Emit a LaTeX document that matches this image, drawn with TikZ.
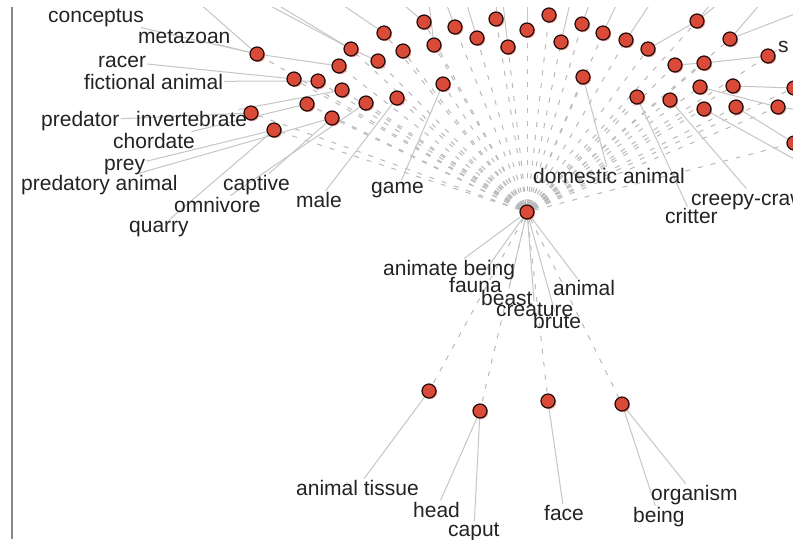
\documentclass[tikz,border=0pt]{standalone}
\usepackage{fontspec}
\setmainfont{Liberation Sans}
\usetikzlibrary{shadows}
\definecolor{nodered}{RGB}{218,74,56}
\definecolor{edgegray}{RGB}{198,198,198}
\definecolor{dashgray}{RGB}{186,186,186}
\definecolor{txt}{RGB}{35,35,35}
\definecolor{framecol}{RGB}{140,138,126}
\pgfdeclarelayer{bg}
\pgfsetlayers{bg,main}
\tikzset{
  vdot/.style={circle, minimum size=14pt, inner sep=0pt, fill=nodered, draw=black!85!nodered, line width=1.2pt,
    drop shadow={shadow xshift=1.2pt, shadow yshift=-1.2pt, fill=nodered!85, opacity=0.6}},
  lbl/.style={anchor=base west, inner sep=1pt, text=txt, font=\fontsize{21}{24}\selectfont},
  sline/.style={draw=edgegray, line width=1pt},
  dline/.style={draw=dashgray, line width=1pt, dash pattern=on 5pt off 8pt},
}
\begin{document}
\begin{tikzpicture}[x=1pt,y=-1pt]
\useasboundingbox (0,0) rectangle (793,539);

\begin{scope}
\clip (13.5,7) rectangle (793,539);
% root and tree nodes
\node[vdot] (root) at (527,212) {};
\foreach \nm/\x/\y in {n1/257/54, n2/251/113, n3/274/130, n4/294/79, n5/318/81, n6/307/104,
  n7/332/118, n8/342/90, n9/339/66, n10/351/49, n11/366/103, n12/378/61, n13/384/33,
  n14/397/98, n15/403/51, n16/424/22, n17/434/45, n18/443/84, n19/455/27, n20/477/38,
  n21/496/19, n22/508/47, n23/527/30, n24/549/15, n25/561/42, n26/582/24, n27/583/77,
  n28/603/33, n29/626/40, n30/648/49, n31/637/97, n32/670/100, n33/675/65, n34/697/21,
  n35/704/63, n36/700/87, n37/704/109, n38/730/39, n39/733/86, n40/736/107, n41/768/56,
  n42/778/107, n43/794/143, n44/794/88,
  b1/429/391, b2/480/411, b3/548/401, b4/622/404}
  \node[vdot] (\nm) at (\x,\y) {};

% labels
\node[lbl] (conceptus) at (47,22) {conceptus};
\node[lbl] (metazoan) at (137,43) {metazoan};
\node[lbl] (racer) at (97,67) {racer};
\node[lbl] (fictional) at (83,89) {fictional animal};
\node[lbl] (predator) at (40,126) {predator};
\node[lbl] (invertebrate) at (135,126) {invertebrate};
\node[lbl] (chordate) at (112,148) {chordate};
\node[lbl] (prey) at (103,170) {prey};
\node[lbl] (predatory) at (20,190) {predatory animal};
\node[lbl] (captive) at (222,190) {captive};
\node[lbl] (omnivore) at (173,212) {omnivore};
\node[lbl] (quarry) at (128,232) {quarry};
\node[lbl] (male) at (295,207) {male};
\node[lbl] (game) at (370,193) {game};
\node[lbl] (domestic) at (532,183) {domestic animal};
\node[lbl] (creepy) at (690,205) {creepy-crawly};
\node[lbl] (critter) at (664,223) {critter};
\node[lbl] (sLabel) at (777,52) {s};
\node[lbl] (animate) at (382,275) {animate being};
\node[lbl] (fauna) at (448,292) {fauna};
\node[lbl] (beast) at (480,305) {beast};
\node[lbl] (creature) at (495,316) {creature};
\node[lbl] (brute) at (532,328) {brute};
\node[lbl] (animal) at (552,295) {animal};
\node[lbl] (tissue) at (295,495) {animal tissue};
\node[lbl] (head) at (412,517) {head};
\node[lbl] (caput) at (447,536) {caput};
\node[lbl] (face) at (543,520) {face};
\node[lbl] (organism) at (650,500) {organism};
\node[lbl] (being) at (632,522) {being};

% off-picture ends
\coordinate (o1) at (190,-5);
\coordinate (o10a) at (250,-5);
\coordinate (o10b) at (261,-5);
\coordinate (o13) at (328,-5);
\coordinate (o16) at (392,-5);
\coordinate (o17) at (428,-5);
\coordinate (o19) at (443,-5);
\coordinate (o20) at (464,-5);
\coordinate (o21) at (497,-5);
\coordinate (o22) at (502,-5);
\coordinate (o23) at (527,-5);
\coordinate (o24) at (547,-5);
\coordinate (o25) at (572,-5);
\coordinate (o26) at (593,-5);
\coordinate (o28) at (621,-5);
\coordinate (o29) at (656,-5);
\coordinate (o34a) at (718,-5);
\coordinate (o34b) at (729,-5);
\coordinate (o38a) at (805,10);
\coordinate (o38b) at (768,-5);
\coordinate (o37) at (805,165);
\coordinate (o42) at (805,111);
\end{scope}

\begin{pgfonlayer}{bg}
\fill[white] (0,0) rectangle (793,539);
% frame line on the left
\draw[framecol, line width=2.5pt] (12,7) -- (12,539);
\begin{scope}
\clip (13.5,7) rectangle (793,539);
% dashed spokes from the root
\foreach \nm in {n1,n2,n3,n4,n5,n6,n7,n8,n9,n10,n11,n12,n13,n14,n15,n16,n17,n18,n19,n20,
  n21,n22,n23,n24,n25,n26,n27,n28,n29,n30,n31,n32,n33,n34,n35,n36,n37,n38,n39,n40,n41,n42,n43,n44,
  b1,b2,b3,b4}
  \draw[dline] (root) -- (\nm);
% solid edges from root to its labels
\foreach \lb in {animate,fauna,beast,creature,brute,animal}
  \draw[sline] (root) -- (\lb);
% solid edges from nodes to labels
\foreach \a/\b in {n1/conceptus, n1/metazoan, n4/racer, n5/fictional, n2/predator, n8/invertebrate,
  n6/chordate, n3/prey, n7/predatory, n7/captive, n11/omnivore, n3/quarry, n14/male, n18/game,
  n27/domestic, n31/critter, n32/creepy, n41/sLabel,
  b1/tissue, b2/head, b2/caput, b3/face, b4/organism, b4/being}
  \draw[sline] (\a) -- (\b);
% solid edges between nodes and to ends outside the picture
\foreach \a/\b in {n1/o1, n1/n9, n10/o10a, n10/o10b, n10/n12, n13/o13, n16/o16, n17/o17, n19/o19,
  n20/o20, n21/o21, n22/o22, n23/o23, n24/o24, n25/o25, n26/o26, n28/o28, n29/o29,
  n30/n34, n34/o34a, n34/o34b, n38/o38a, n38/o38b, n33/n35, n35/n41, n39/n44, n36/n42,
  n42/o42, n40/n43, n37/o37}
  \draw[sline] (\a) -- (\b);
\end{scope}
\end{pgfonlayer}
\end{tikzpicture}
\end{document}
